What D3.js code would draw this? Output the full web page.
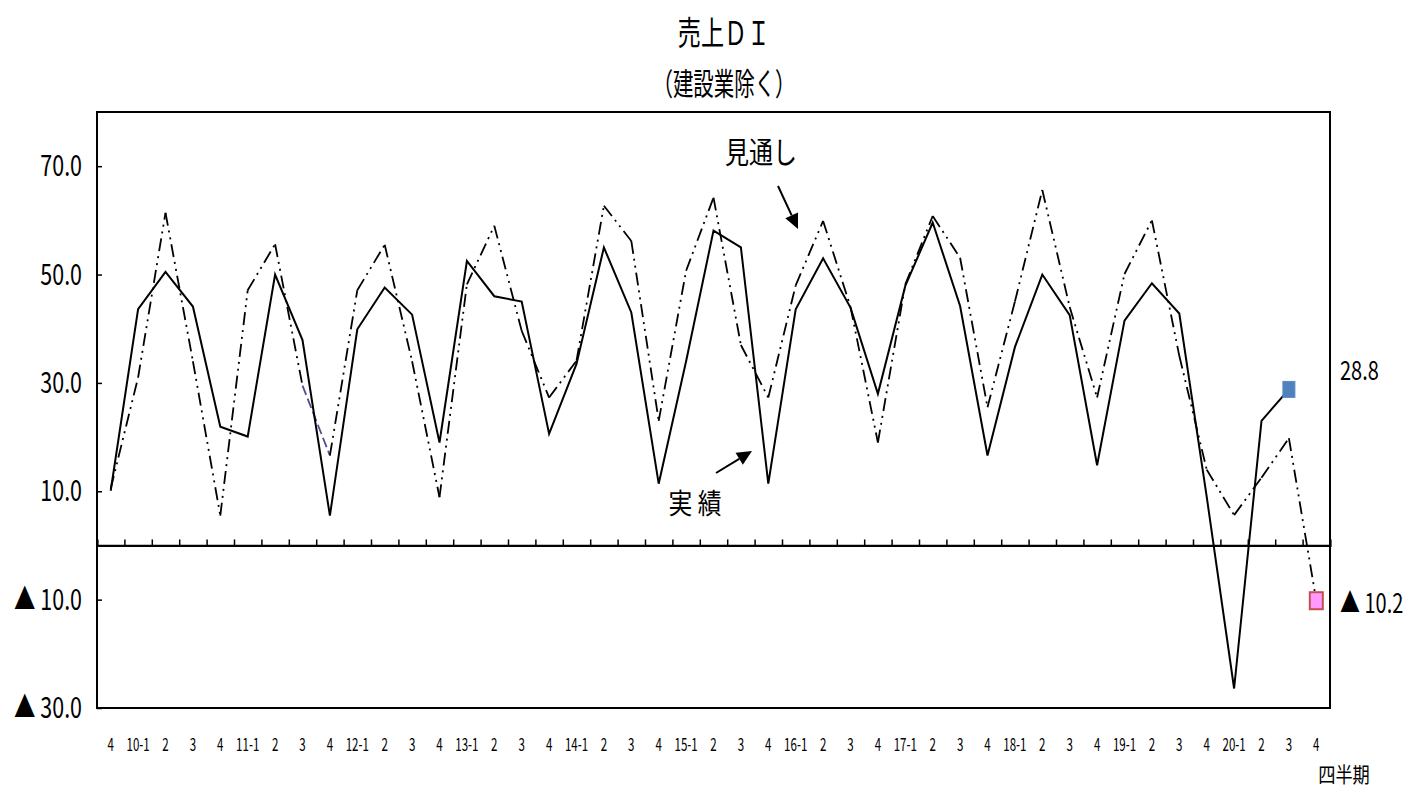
<!DOCTYPE html>
<html>
<head>
<meta charset="utf-8">
<script src="https://cdn.jsdelivr.net/npm/d3@7"></script>
<style>
  html, body { margin: 0; padding: 0; background: #fff; }
  svg text { font-family: "Noto Sans CJK JP", "Noto Sans", sans-serif; fill: #000; }
</style>
</head>
<body>
<svg id="chart" width="1409" height="789"></svg>
<script>
// Quarter labels (2009 Q4 through 2020 Q4)
const quarterLabels = [
  "4",
  "10-1", "2", "3", "4",
  "11-1", "2", "3", "4",
  "12-1", "2", "3", "4",
  "13-1", "2", "3", "4",
  "14-1", "2", "3", "4",
  "15-1", "2", "3", "4",
  "16-1", "2", "3", "4",
  "17-1", "2", "3", "4",
  "18-1", "2", "3", "4",
  "19-1", "2", "3", "4",
  "20-1", "2", "3", "4"
];

// 実績 (actual) sales DI, through 2020 Q3
const actualDI = [
  10.1,
  43.6, 50.5, 44.1, 21.9,
  20.1, 50.0, 37.9, 5.5,
  39.9, 47.6, 42.6, 19.0,
  52.5, 46.0, 45.0, 20.6,
  33.5, 55.0, 43.0, 11.4,
  34.0, 58.1, 55.0, 11.4,
  43.6, 53.0, 43.9, 28.0,
  47.9, 59.6, 44.2, 16.6,
  36.6, 50.0, 42.5, 14.8,
  41.5, 48.4, 42.8, 9.0,
  -26.4, 23.0, 28.8
];

// 見通し (outlook) sales DI, through 2020 Q4
const outlookDI = [
  10.5,
  31.0, 61.4, 34.0, 5.5,
  47.1, 55.6, 29.5, 16.6,
  47.1, 55.5, 34.0, 8.9,
  48.2, 59.0, 39.6, 27.3,
  34.1, 62.7, 56.2, 23.0,
  50.7, 64.2, 37.0, 27.3,
  48.0, 59.9, 44.0, 19.0,
  48.2, 60.8, 53.1, 25.5,
  45.0, 65.6, 44.0, 27.3,
  50.1, 60.0, 35.0, 14.0,
  5.6, 12.5, 19.8, -10.2
];

// Left axis tick values
const yTickValues = [-30, -10, 10, 30, 50, 70];

const svg = d3.select("#chart");
const plot = { left: 97, right: 1330, top: 112, bottom: 708 };

const x = d3.scaleBand()
  .domain(d3.range(quarterLabels.length))
  .range([plot.left, plot.right])
  .paddingInner(0).paddingOuter(0);
const cx = i => x(i) + x.bandwidth() / 2;

const y = d3.scaleLinear().domain([-30, 80]).range([plot.bottom, plot.top]);

const fmt = v => v < 0 ? "▲ " + Math.abs(v).toFixed(1) : v.toFixed(1);

// Narrow text: horizontally condensed glyphs
function label(g, str, px, py, size, anchor, sx) {
  return g.append("text")
    .attr("transform", `translate(${px},${py}) scale(${sx},1)`)
    .attr("text-anchor", anchor)
    .attr("font-size", size)
    .text(str);
}

// Title
label(svg, "売上ＤＩ", 724, 45, 33, "middle", 0.7);
label(svg, "（建設業除く）", 724, 95, 31, "middle", 0.66);

// Left axis: inward ticks, labels drawn separately
const yAxis = d3.axisLeft(y).tickValues(yTickValues).tickSize(-5).tickFormat("");
const yAxisG = svg.append("g").attr("transform", `translate(${plot.left},0)`).call(yAxis);
yAxisG.select(".domain").remove();
yAxisG.selectAll("line").attr("stroke", "#000").attr("stroke-width", 1.5);

const yLabels = svg.append("g");
yTickValues.forEach(v => {
  label(yLabels, fmt(v), 82, y(v) + 10, 29, "end", 0.74);
});

// Zero line with upward ticks on category boundaries
const zeroG = svg.append("g");
const boundaries = d3.range(1, quarterLabels.length);
const xAxis = d3.axisBottom(d3.scaleLinear().domain([0, quarterLabels.length]).range([plot.left, plot.right]))
  .tickValues(boundaries).tickSize(-6).tickFormat("");
const xAxisG = zeroG.append("g").attr("transform", `translate(0,${y(0)})`).call(xAxis);
xAxisG.select(".domain").attr("stroke", "#000").attr("stroke-width", 2.2);
xAxisG.selectAll("line").attr("stroke", "#000").attr("stroke-width", 1.5);

// Quarter labels under the frame
const xLabels = svg.append("g");
quarterLabels.forEach((s, i) => {
  label(xLabels, s, cx(i), 751, 18, "middle", 0.64);
});
label(svg, "四半期", 1344, 782, 21, "middle", 0.82);

// Outlook line: long dash / dot / dot, one segment in purple dashes
const lineGen = d3.line().x(d => cx(d.i)).y(d => y(d.v));
const outlookPts = outlookDI.map((v, i) => ({ i, v }));
const purpleSeg = 7;
for (let k = 0; k < outlookPts.length - 1; k++) {
  const seg = [outlookPts[k], outlookPts[k + 1]];
  const isPurple = k === purpleSeg;
  svg.append("path")
    .attr("d", lineGen(seg))
    .attr("fill", "none")
    .attr("stroke", isPurple ? "#5b4a8a" : "#000")
    .attr("stroke-width", 1.8)
    .attr("stroke-dasharray", isPurple ? "10,4" : "13,5,2,5,2,5");
}

// Actual line
svg.append("path")
  .attr("d", lineGen(actualDI.map((v, i) => ({ i, v }))))
  .attr("fill", "none")
  .attr("stroke", "#000")
  .attr("stroke-width", 2)
  .attr("stroke-linejoin", "miter");

// End markers
const lastA = actualDI.length - 1;
svg.append("rect")
  .attr("x", cx(lastA) - 6).attr("y", y(actualDI[lastA]) - 8)
  .attr("width", 12).attr("height", 16)
  .attr("fill", "#4f81bd").attr("stroke", "#5a8ac6").attr("stroke-width", 1);
const lastO = outlookDI.length - 1;
svg.append("rect")
  .attr("x", cx(lastO) - 6.5).attr("y", y(outlookDI[lastO]) - 8.5)
  .attr("width", 13).attr("height", 17)
  .attr("fill", "#ff99ff").attr("stroke", "#c0504d").attr("stroke-width", 2);

// End value labels
label(svg, actualDI[lastA].toFixed(1), 1340, 380, 27, "start", 0.74);
label(svg, fmt(outlookDI[lastO]), 1340, 613, 27, "start", 0.74);

// Frame
svg.append("rect")
  .attr("x", plot.left).attr("y", plot.top)
  .attr("width", plot.right - plot.left).attr("height", plot.bottom - plot.top)
  .attr("fill", "none").attr("stroke", "#000").attr("stroke-width", 2);

// Series callouts with arrows
function arrow(x1, y1, x2, y2) {
  const ang = Math.atan2(y2 - y1, x2 - x1);
  const len = 15, half = 7;
  const bx = x2 - len * Math.cos(ang), by = y2 - len * Math.sin(ang);
  svg.append("line")
    .attr("x1", x1).attr("y1", y1).attr("x2", bx).attr("y2", by)
    .attr("stroke", "#000").attr("stroke-width", 2);
  const px = -Math.sin(ang) * half, py = Math.cos(ang) * half;
  svg.append("path")
    .attr("d", `M${x2},${y2}L${bx + px},${by + py}L${bx - px},${by - py}Z`)
    .attr("fill", "#000");
}
label(svg, "見通し", 761, 163, 30, "middle", 0.8);
arrow(778, 186, 798, 229);
label(svg, "実 績", 695, 514, 28, "middle", 0.85);
arrow(716, 473, 752, 451);
</script>
</body>
</html>
